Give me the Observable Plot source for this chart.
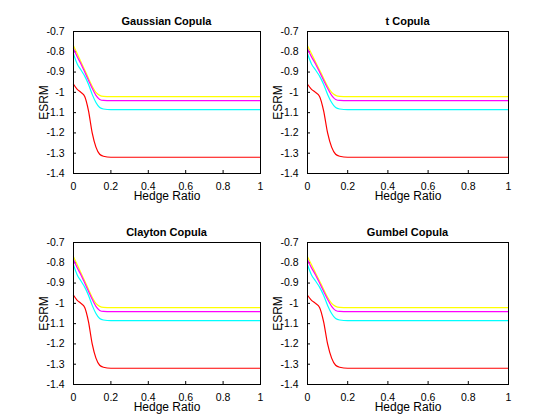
<!DOCTYPE html>
<html><head>
<script src="https://cdn.jsdelivr.net/npm/d3@7"></script>
<script src="https://cdn.jsdelivr.net/npm/@observablehq/plot@0.6"></script>
<style>
body{margin:0;background:#fff;font-family:"Liberation Sans",Arial,sans-serif;}
#wrap{position:relative;width:560px;height:420px;}
.p{position:absolute;}
.t{position:absolute;font-weight:bold;font-size:11px;text-align:center;}
</style></head><body><div id="wrap"></div>
<script>
const hedge = [0,0.02,0.04,0.06,0.08,0.1,0.12,0.14,0.16,0.2,0.3,0.5,0.7,1];
const titles = ["Gaussian Copula","t Copula","Clayton Copula","Gumbel Copula"];
const colors = ["yellow","magenta","cyan","red"];
const yellow = [-0.77,-0.81,-0.85,-0.89,-0.93,-0.97,-1.0,-1.015,-1.02,-1.021,-1.021,-1.021,-1.021,-1.021];
const magenta = [-0.785,-0.825,-0.86,-0.9,-0.94,-0.98,-1.015,-1.035,-1.04,-1.041,-1.041,-1.041,-1.041,-1.041];
const cyan = [-0.81,-0.86,-0.89,-0.92,-0.96,-1.01,-1.05,-1.075,-1.082,-1.085,-1.085,-1.085,-1.085,-1.085];
const red = [-0.96,-0.985,-1.0,-1.02,-1.09,-1.2,-1.27,-1.305,-1.315,-1.32,-1.32,-1.32,-1.32,-1.32];
const series = [yellow, magenta, cyan, red];

const layout = [
  {left:30, top:0, width:240},
  {left:264, top:0, width:254},
  {left:30, top:211, width:240},
  {left:264, top:211, width:254}
];
const wrap = document.getElementById("wrap");
titles.forEach((title, i) => {
  const L = layout[i];
  const rows = [];
  series.forEach((s, k) => s.forEach((v, j) => rows.push({x: hedge[j], y: v, c: colors[k]})));
  const plot = Plot.plot({
    width: L.width, height: 201,
    marginLeft: 43, marginRight: 10, marginTop: 31, marginBottom: 28,
    style: {fontFamily: "Liberation Sans, Arial, sans-serif", fontSize: "10.5px", background: "white", overflow: "visible"},
    x: {domain: [0, 1], ticks: [0,0.2,0.4,0.6,0.8,1], tickFormat: d => d === 0 || d === 1 ? String(d) : d.toFixed(1), label: "Hedge Ratio", labelAnchor: "center", labelArrow: "none", labelOffset: 26, tickSize: -3},
    y: {domain: [-1.4, -0.7], ticks: d3.range(-1.4, -0.69, 0.1), tickFormat: d => { const r = Math.round(d*10)/10; return r === -1 ? "-1" : String(r); }, label: "ESRM", labelAnchor: "center", labelArrow: "none", labelOffset: 34, tickSize: -3},
    color: {type: "identity"},
    marks: [
      Plot.line(rows, {x: "x", y: "y", z: "c", stroke: "c", curve: "monotone-x", strokeWidth: 1.2}),
      Plot.frame({stroke: "black"})
    ]
  });
  plot.classList.add("p");
  plot.style.left = L.left + "px"; plot.style.top = L.top + "px";
  plot.querySelectorAll("[aria-label$='axis label'] text").forEach(t => t.style.fontSize = "12px");
  wrap.appendChild(plot);
  const t = document.createElement("div");
  t.className = "t"; t.textContent = title;
  t.style.left = (L.left + 43) + "px"; t.style.width = (L.width - 53) + "px";
  t.style.top = (L.top + 15) + "px";
  wrap.appendChild(t);
});
</script></body></html>
